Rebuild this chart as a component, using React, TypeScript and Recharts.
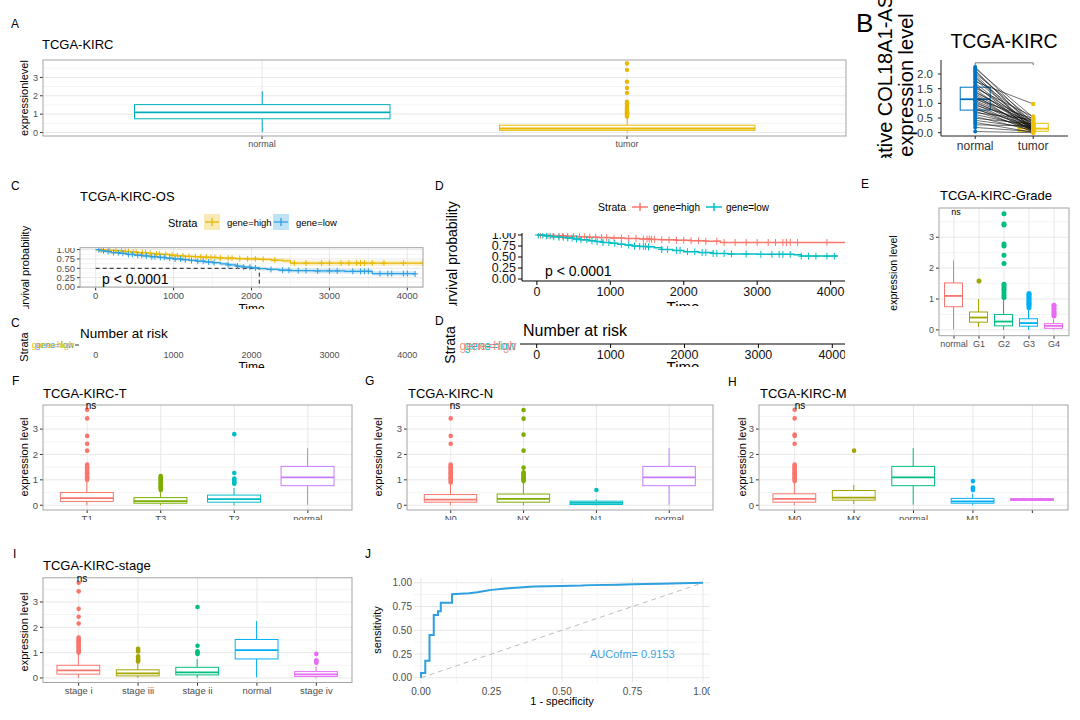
import React from "react";
import { ComposedChart, Bar, Scatter, Line, Area, XAxis, YAxis, CartesianGrid } from "recharts";

const FONT = "'Liberation Sans', Arial, Helvetica, sans-serif";

const HUE4 = ["#F8766D", "#7CAE00", "#00BFC4", "#C77CFF"];
const HUE5 = ["#F8766D", "#A3A500", "#00BF7D", "#00B0F6", "#E76BF3"];

// A: normal vs tumor
const aCats = ["normal", "tumor"];
const aLo = [0.02, 0.0];
const aQ1 = [0.75, 0.12];
const aMed = [1.1, 0.22];
const aQ3 = [1.52, 0.4];
const aHi = [2.25, 0.8];
const aOut = [[], [3.76, 3.41, 2.77, 2.43, 2.16, 1.68, 1.6, 1.55, 1.5, 1.45, 1.4, 1.35, 1.3, 1.25, 1.2, 1.15, 1.1, 1.05, 1.0, 0.95, 0.9, 0.87]];

// B: paired samples
const bCats = ["normal", "tumor"];
const bLo = [0.04, 0.0];
const bQ1 = [0.77, 0.05];
const bMed = [1.14, 0.14];
const bQ3 = [1.55, 0.32];
const bHi = [2.24, 0.56];
const bNormal = [2.24, 2.19, 2.13, 2.08, 2.02, 1.97, 1.91, 1.86, 1.8, 1.74, 1.69, 1.62, 1.57, 1.52, 1.48, 1.41, 1.37, 1.33, 1.28, 1.22, 1.18, 1.14, 1.1, 1.06, 1.01, 0.97, 0.93, 0.88, 0.84, 0.79, 0.73, 0.68, 0.62, 0.55, 0.49, 0.42, 0.35, 0.27, 0.18, 0.04];
const bTumor = [0.31, 0.52, 0.18, 0.25, 0.44, 0.12, 0.08, 0.36, 0.21, 0.98, 0.15, 0.05, 0.28, 0.55, 0.1, 0.22, 0.4, 0.17, 0.03, 0.32, 0.14, 0.48, 0.2, 0.09, 0.26, 0.06, 0.38, 0.13, 0.02, 0.24, 0.11, 0.45, 0.19, 0.07, 0.3, 0.16, 0.01, 0.23, 0.04, 0.0];
const bBracket = 2.38;

// C: OS survival (gene high / low)
const cHighT = [0, 60, 150, 250, 350, 450, 550, 650, 750, 850, 950, 1050, 1150, 1250, 1350, 1450, 1550, 1650, 1800, 1950, 2100, 2250, 2400, 2500, 4200];
const cHigh = [1, 0.99, 0.98, 0.97, 0.95, 0.93, 0.92, 0.9, 0.88, 0.87, 0.85, 0.83, 0.82, 0.81, 0.8, 0.79, 0.78, 0.77, 0.76, 0.75, 0.74, 0.72, 0.7, 0.64, 0.64];
const cHighUp = [1, 1, 1, 0.99, 0.97, 0.96, 0.95, 0.93, 0.92, 0.91, 0.89, 0.87, 0.86, 0.85, 0.84, 0.83, 0.82, 0.81, 0.8, 0.8, 0.79, 0.77, 0.76, 0.71, 0.71];
const cHighLow = [1, 0.98, 0.96, 0.94, 0.92, 0.9, 0.89, 0.86, 0.84, 0.83, 0.81, 0.79, 0.78, 0.77, 0.75, 0.74, 0.73, 0.72, 0.71, 0.7, 0.69, 0.66, 0.64, 0.57, 0.57];
const cLowT = [0, 50, 120, 200, 300, 400, 500, 600, 700, 800, 900, 1000, 1100, 1200, 1300, 1400, 1500, 1600, 1700, 1800, 1900, 2000, 2100, 2200, 2350, 2500, 2800, 3200, 3550, 4100];
const cLow = [1, 0.97, 0.95, 0.92, 0.9, 0.87, 0.85, 0.83, 0.81, 0.79, 0.77, 0.75, 0.73, 0.71, 0.69, 0.67, 0.65, 0.62, 0.59, 0.56, 0.53, 0.51, 0.49, 0.47, 0.45, 0.44, 0.43, 0.42, 0.36, 0.35];
const cLowUp = [1, 0.99, 0.98, 0.95, 0.93, 0.91, 0.89, 0.87, 0.85, 0.83, 0.81, 0.79, 0.77, 0.75, 0.73, 0.71, 0.69, 0.67, 0.64, 0.61, 0.58, 0.56, 0.54, 0.52, 0.5, 0.49, 0.49, 0.48, 0.42, 0.41];
const cLowLow = [1, 0.95, 0.92, 0.89, 0.87, 0.83, 0.81, 0.79, 0.77, 0.75, 0.73, 0.71, 0.69, 0.67, 0.65, 0.63, 0.61, 0.57, 0.54, 0.51, 0.48, 0.46, 0.44, 0.42, 0.4, 0.39, 0.37, 0.36, 0.3, 0.29];
const cHighCens = [70, 180, 260, 330, 380, 420, 480, 520, 600, 640, 700, 780, 820, 900, 980, 1050, 1120, 1200, 1280, 1350, 1420, 1480, 1530, 1600, 1700, 1750, 1850, 1950, 2050, 2150, 2300, 2550, 2700, 2900, 3000, 3150, 3250, 3350, 3400, 3450, 3550, 3700, 3950, 4200];
const cLowCens = [40, 100, 160, 230, 290, 350, 420, 470, 540, 590, 650, 720, 760, 830, 880, 950, 1020, 1090, 1150, 1230, 1310, 1380, 1450, 1520, 1700, 1820, 1900, 1980, 2050, 2250, 2400, 2480, 2600, 2700, 2850, 3000, 3100, 3300, 3400, 3450, 3500, 3650, 3750, 3800, 3950, 4000, 4100];
const cMedianTime = 2100;

// D: second survival
const dHighT = [0, 100, 250, 400, 550, 700, 850, 1000, 1200, 1400, 1550, 1700, 1900, 2100, 2300, 2500, 4200];
const dHigh = [1, 0.99, 0.98, 0.97, 0.96, 0.95, 0.94, 0.93, 0.92, 0.91, 0.9, 0.89, 0.88, 0.87, 0.86, 0.83, 0.83];
const dLowT = [0, 100, 200, 300, 400, 500, 600, 700, 800, 900, 1000, 1100, 1200, 1300, 1400, 1500, 1600, 1700, 1850, 2000, 2200, 2400, 2600, 3000, 3500, 3600, 4100];
const dLow = [1, 0.98, 0.96, 0.95, 0.93, 0.91, 0.89, 0.87, 0.85, 0.83, 0.81, 0.79, 0.77, 0.75, 0.74, 0.73, 0.71, 0.67, 0.65, 0.62, 0.6, 0.58, 0.57, 0.56, 0.55, 0.52, 0.52];
const dHighCens = [50, 150, 220, 300, 350, 420, 500, 580, 650, 720, 800, 880, 950, 1050, 1150, 1250, 1350, 1450, 1500, 1530, 1560, 1600, 1700, 1800, 1900, 2000, 2100, 2200, 2300, 2450, 2550, 2700, 2850, 3000, 3150, 3250, 3350, 3400, 3450, 3550, 3950];
const dLowCens = [20, 80, 130, 180, 230, 300, 360, 420, 480, 540, 600, 680, 750, 820, 900, 980, 1060, 1150, 1250, 1330, 1400, 1450, 1480, 1520, 1700, 1780, 1900, 1950, 2050, 2150, 2250, 2300, 2400, 2450, 2550, 2650, 2850, 3050, 3200, 3300, 3350, 3450, 3600, 3700, 3800, 3950, 4050];
const survTicks = [0, 1000, 2000, 3000, 4000];

// E: grade
const eCats = ["normal", "G1", "G2", "G3", "G4"];
const eLo = [0.02, 0.1, 0, 0, 0];
const eQ1 = [0.75, 0.25, 0.13, 0.12, 0.05];
const eMed = [1.1, 0.4, 0.27, 0.22, 0.13];
const eQ3 = [1.52, 0.58, 0.5, 0.36, 0.2];
const eHi = [2.25, 1.0, 1.0, 0.7, 0.35];
const eOut = [[], [1.58], [1.05, 1.12, 1.2, 1.28, 1.35, 1.42, 1.48, 2.15, 2.42, 2.72, 2.78, 3.4, 3.43, 3.76], [0.72, 0.78, 0.82, 0.86, 0.9, 0.95, 1.0, 1.05, 1.1, 1.15, 1.18], [0.45, 0.5, 0.55, 0.6, 0.68, 0.72, 0.78, 0.8]];

// F: T stage
const fCats = ["T1", "T3", "T2", "normal"];
const fLo = [0, 0, 0, 0.02];
const fQ1 = [0.15, 0.08, 0.12, 0.77];
const fMed = [0.28, 0.16, 0.24, 1.1];
const fQ3 = [0.5, 0.3, 0.4, 1.53];
const fHi = [0.92, 0.58, 0.68, 2.25];
const fOut = [[1.0, 1.05, 1.1, 1.15, 1.2, 1.25, 1.3, 1.35, 1.4, 1.45, 1.5, 1.55, 1.6, 2.15, 2.42, 2.73, 3.42, 3.76], [0.6, 0.65, 0.7, 0.75, 0.8, 0.85, 0.9, 0.95, 1.0, 1.05, 1.1, 1.15], [0.85, 0.9, 0.95, 1.0, 1.05, 1.27, 2.8], []];

// G: N stage
const gCats = ["N0", "NX", "N1", "normal"];
const gLo = [0, 0, 0, 0.02];
const gQ1 = [0.12, 0.12, 0.03, 0.77];
const gMed = [0.22, 0.25, 0.09, 1.1];
const gQ3 = [0.42, 0.44, 0.16, 1.53];
const gHi = [0.88, 0.9, 0.24, 2.25];
const gOut = [[0.9, 0.95, 1.0, 1.05, 1.1, 1.15, 1.2, 1.25, 1.3, 1.35, 1.4, 1.45, 1.5, 1.55, 1.6, 2.42, 2.73, 3.42], [0.95, 1.0, 1.05, 1.1, 1.15, 1.2, 1.25, 1.3, 1.48, 2.15, 2.78, 3.41, 3.75], [0.6], []];

// H: M stage
const hCats = ["M0", "MX", "normal", "M1", ""];
const hLo = [0, 0.05, 0.02, 0, 0.18];
const hQ1 = [0.12, 0.2, 0.77, 0.08, 0.19];
const hMed = [0.25, 0.3, 1.1, 0.15, 0.22];
const hQ3 = [0.45, 0.58, 1.53, 0.27, 0.26];
const hHi = [0.9, 0.8, 2.25, 0.45, 0.27];
const hOut = [[0.95, 1.0, 1.05, 1.1, 1.15, 1.2, 1.25, 1.3, 1.35, 1.4, 1.45, 1.5, 1.55, 1.6, 2.42, 2.73, 2.78, 3.42, 3.76], [2.15], [], [0.6, 0.65, 0.7, 0.95], []];

// I: pathologic stage
const iCats = ["stage i", "stage iii", "stage ii", "normal", "stage iv"];
const iLo = [0, 0, 0, 0.02, 0];
const iQ1 = [0.15, 0.08, 0.12, 0.75, 0.06];
const iMed = [0.3, 0.18, 0.22, 1.1, 0.14];
const iQ3 = [0.5, 0.32, 0.42, 1.52, 0.25];
const iHi = [0.95, 0.6, 0.75, 2.25, 0.45];
const iOut = [[1.0, 1.05, 1.1, 1.15, 1.2, 1.25, 1.3, 1.35, 1.4, 1.45, 1.5, 1.55, 1.6, 2.15, 2.42, 2.73, 3.42, 3.76], [0.65, 0.7, 0.75, 0.8, 0.85, 1.05, 1.1, 1.15], [0.95, 1.0, 1.05, 1.27, 2.8], [], [0.6, 0.65, 0.7, 0.95]];

// J: ROC
const rocFpr = [0, 0, 0.015, 0.015, 0.03, 0.03, 0.045, 0.045, 0.06, 0.06, 0.07, 0.07, 0.11, 0.11, 0.17, 0.2, 0.22, 0.25, 0.3, 0.35, 0.4, 0.5, 0.57, 0.6, 0.7, 0.75, 0.85, 1];
const rocTpr = [0, 0.05, 0.05, 0.18, 0.18, 0.45, 0.45, 0.66, 0.66, 0.7, 0.7, 0.79, 0.79, 0.88, 0.89, 0.9, 0.91, 0.925, 0.94, 0.95, 0.96, 0.965, 0.97, 0.975, 0.98, 0.985, 0.99, 1];
const rocAuc = 0.9153;

const Y_TICKS = [0, 1, 2, 3];
const Y_MINOR = [0.5, 1.5, 2.5, 3.5];
const BOX_DOMAIN: [number, number] = [-0.188, 3.948];

const stepAt = (ts: number[], ss: number[], t: number) => {
  let v = ss[0];
  ts.forEach((tt, i) => {
    if (tt <= t) v = ss[i];
  });
  return v;
};

const BoxShape = (props: any) => {
  const { x, y, width, height } = props;
  const p = props.payload ?? props;
  if (p == null || p.lo == null) return null;
  const top = Math.min(y, y + height);
  const bot = Math.max(y, y + height);
  const span = p.hi - p.lo;
  const py = (v: number) => (span > 0 ? bot - ((v - p.lo) / span) * (bot - top) : bot);
  const cx = x + width / 2;
  return (
    <g>
      <line x1={cx} x2={cx} y1={py(p.hi)} y2={py(p.q3)} stroke={p.color} strokeWidth={1} />
      <line x1={cx} x2={cx} y1={py(p.q1)} y2={py(p.lo)} stroke={p.color} strokeWidth={1} />
      <rect x={x} y={py(p.q3)} width={width} height={Math.max(1, py(p.q1) - py(p.q3))} fill="#fff" stroke={p.color} strokeWidth={1} />
      <line x1={x} x2={x + width} y1={py(p.med)} y2={py(p.med)} stroke={p.color} strokeWidth={1.8} />
    </g>
  );
};

const dotShape = (r: number) => (props: any) => (
  <circle cx={props.cx} cy={props.cy} r={r} fill={props.payload?.color ?? props.color} />
);

const plusShape = (color: string, s: number) => (props: any) => (
  <g stroke={color} strokeWidth={1}>
    <line x1={props.cx - s} x2={props.cx + s} y1={props.cy} y2={props.cy} />
    <line x1={props.cx} x2={props.cx} y1={props.cy - s} y2={props.cy + s} />
  </g>
);

const tickStyle = (size: number, fill = "#4D4D4D") => ({ fontSize: size, fill, fontFamily: FONT });

function BoxPanel(props: any) {
  const { cats, lo, q1, med, q3, hi, out, colors, x0, y0, x1, y1 } = props;
  const frac = props.frac ?? 0.72;
  const font = props.font ?? 9.5;
  const r = props.r ?? 2.3;
  const xh = props.xh ?? 24;
  const yw = 34;
  const n = cats.length;
  const unit = (x1 - x0) / (n + 0.2);
  const W = x1 - x0 + yw;
  const H = y1 - y0 + xh;
  const rows = cats.map((c: string, i: number) => ({
    x: i + 1, name: c, range: [lo[i], hi[i]], lo: lo[i], q1: q1[i], med: med[i], q3: q3[i], hi: hi[i], color: colors[i],
  }));
  const pts = out.flatMap((vals: number[], i: number) => vals.map((v) => ({ x: i + 1, y: v, color: colors[i] })));
  const pos = rows.map((d: any) => d.x);
  return (
    <div style={{ position: "absolute", left: x0 - yw, top: y0, width: W, height: H }}>
      <ComposedChart width={W} height={H} data={rows} margin={{ top: 0, right: 0, bottom: 0, left: 0 }}>
        <CartesianGrid horizontalValues={Y_MINOR} vertical={false} stroke="#F4F4F4" />
        <CartesianGrid horizontalValues={Y_TICKS} verticalValues={pos} stroke="#E8E8E8" />
        <XAxis type="number" dataKey="x" domain={[0.4, n + 0.6]} ticks={pos} interval={0}
          tickFormatter={(v: number) => cats[v - 1]} height={xh} tickSize={3} axisLine={false}
          tickLine={{ stroke: "#333" }} tick={tickStyle(font)} />
        <YAxis type="number" domain={BOX_DOMAIN} ticks={Y_TICKS} interval={0} width={yw} tickSize={3}
          axisLine={false} tickLine={{ stroke: "#333" }} tick={tickStyle(font)} />
        <Bar dataKey="range" barSize={unit * frac} shape={BoxShape} isAnimationActive={false} />
        <Scatter data={pts} dataKey="y" shape={dotShape(r)} isAnimationActive={false} />
      </ComposedChart>
    </div>
  );
}

function PairedPanel() {
  const x0 = 941, x1 = 1068, y0 = 60, y1 = 136, yw = 40, xh = 24;
  const W = x1 - x0 + yw, H = y1 - y0 + xh;
  const colors = ["#0073C2", "#EFC000"];
  const rows = bCats.map((c, i) => ({
    x: i + 1, range: [bLo[i], bHi[i]], lo: bLo[i], q1: bQ1[i], med: bMed[i], q3: bQ3[i], hi: bHi[i], color: colors[i],
  }));
  const normalPts = bNormal.map((v) => ({ x: 1, y: v, color: colors[0] }));
  const tumorPts = bTumor.map((v) => ({ x: 2, y: v, color: colors[1] }));
  const bracket = [{ x: 1, y: bBracket - 0.08 }, { x: 1, y: bBracket }, { x: 2, y: bBracket }, { x: 2, y: bBracket - 0.08 }];
  return (
    <div style={{ position: "absolute", left: x0 - yw, top: y0, width: W, height: H }}>
      <ComposedChart width={W} height={H} data={rows} margin={{ top: 0, right: 0, bottom: 0, left: 0 }}>
        <XAxis type="number" dataKey="x" domain={[0.41, 2.6]} ticks={[1, 2]} interval={0}
          tickFormatter={(v: number) => bCats[v - 1]} height={xh} tickSize={3}
          axisLine={{ stroke: "#222" }} tickLine={{ stroke: "#222" }} tick={tickStyle(12, "#333")} />
        <YAxis type="number" domain={[-0.112, 2.477]} ticks={[0, 0.5, 1, 1.5, 2]} interval={0} width={yw}
          tickFormatter={(v: number) => v.toFixed(1)} tickSize={3} tickMargin={5}
          axisLine={{ stroke: "#222" }} tickLine={{ stroke: "#222" }} tick={tickStyle(11.5, "#333")} />
        <Bar dataKey="range" barSize={30} shape={BoxShape} isAnimationActive={false} />
        {bNormal.map((v, i) => (
          <Line key={"p" + i} data={[{ x: 1, y: v }, { x: 2, y: bTumor[i] }]} dataKey="y" stroke="#111"
            strokeWidth={0.6} dot={false} isAnimationActive={false} />
        ))}
        <Line data={bracket} dataKey="y" stroke="#555" strokeWidth={0.8} dot={false} isAnimationActive={false} />
        <Scatter data={normalPts} dataKey="y" shape={dotShape(2)} isAnimationActive={false} />
        <Scatter data={tumorPts} dataKey="y" shape={dotShape(2.2)} isAnimationActive={false} />
      </ComposedChart>
    </div>
  );
}

function SurvC() {
  const x0 = 80, x1 = 423, y0 = 247.7, y1 = 287.1, yw = 34, xh = 20;
  const W = x1 - x0 + yw, H = y1 - y0 + xh;
  const hiRows = cHighT.map((t, i) => ({ t, s: cHigh[i], band: [cHighLow[i], cHighUp[i]] }));
  const loRows = cLowT.map((t, i) => ({ t, s: cLow[i], band: [cLowLow[i], cLowUp[i]] }));
  const hiCens = cHighCens.map((t) => ({ t, s: stepAt(cHighT, cHigh, t) }));
  const loCens = cLowCens.map((t) => ({ t, s: stepAt(cLowT, cLow, t) }));
  const med = [{ t: 0, s: 0.5 }, { t: cMedianTime, s: 0.5 }, { t: cMedianTime, s: 0 }];
  return (
    <div style={{ position: "absolute", left: x0 - yw, top: y0, width: W, height: H }}>
      <ComposedChart width={W} height={H} margin={{ top: 0, right: 0, bottom: 0, left: 0 }}>
        <CartesianGrid horizontalValues={[0.125, 0.375, 0.625, 0.875]} verticalValues={[500, 1500, 2500, 3500]} stroke="#F4F4F4" />
        <CartesianGrid horizontalValues={[0, 0.25, 0.5, 0.75, 1]} verticalValues={survTicks} stroke="#E8E8E8" />
        <XAxis type="number" dataKey="t" domain={[-201, 4201]} ticks={survTicks} interval={0} height={xh}
          tickSize={3} axisLine={false} tickLine={{ stroke: "#333" }} tick={tickStyle(9.5)} />
        <YAxis type="number" domain={[-0.01, 1.043]} ticks={[0, 0.25, 0.5, 0.75, 1]} interval={0} width={yw}
          tickFormatter={(v: number) => v.toFixed(2)} tickSize={3} axisLine={false}
          tickLine={{ stroke: "#333" }} tick={tickStyle(9.5)} />
        <Area data={hiRows} dataKey="band" type="stepAfter" fill="#E7B800" fillOpacity={0.22} stroke="none" isAnimationActive={false} />
        <Area data={loRows} dataKey="band" type="stepAfter" fill="#2E9FDF" fillOpacity={0.22} stroke="none" isAnimationActive={false} />
        <Line data={med} dataKey="s" stroke="#000" strokeDasharray="4 3" strokeWidth={0.9} dot={false} isAnimationActive={false} />
        <Line data={hiRows} dataKey="s" type="stepAfter" stroke="#E7B800" strokeWidth={1.3} dot={false} isAnimationActive={false} />
        <Line data={loRows} dataKey="s" type="stepAfter" stroke="#2E9FDF" strokeWidth={1.3} dot={false} isAnimationActive={false} />
        <Scatter data={hiCens} dataKey="s" shape={plusShape("#E7B800", 3)} isAnimationActive={false} />
        <Scatter data={loCens} dataKey="s" shape={plusShape("#2E9FDF", 3)} isAnimationActive={false} />
      </ComposedChart>
    </div>
  );
}

function SurvD() {
  const x0 = 521.7, x1 = 845, y0 = 233, y1 = 281, yw = 40, xh = 22;
  const W = x1 - x0 + yw, H = y1 - y0 + xh;
  const hiRows = dHighT.map((t, i) => ({ t, s: dHigh[i] }));
  const loRows = dLowT.map((t, i) => ({ t, s: dLow[i] }));
  const hiCens = dHighCens.map((t) => ({ t, s: stepAt(dHighT, dHigh, t) }));
  const loCens = dLowCens.map((t) => ({ t, s: stepAt(dLowT, dLow, t) }));
  return (
    <div style={{ position: "absolute", left: x0 - yw, top: y0, width: W, height: H }}>
      <ComposedChart width={W} height={H} margin={{ top: 0, right: 0, bottom: 0, left: 0 }}>
        <XAxis type="number" dataKey="t" domain={[-203, 4172]} ticks={survTicks} interval={0} height={xh}
          tickSize={4} axisLine={{ stroke: "#000" }} tickLine={{ stroke: "#000" }} tick={tickStyle(12.5, "#111")} />
        <YAxis type="number" domain={[-0.045, 1.045]} ticks={[0, 0.25, 0.5, 0.75, 1]} interval={0} width={yw}
          tickFormatter={(v: number) => v.toFixed(2)} tickSize={4} axisLine={{ stroke: "#000" }}
          tickLine={{ stroke: "#000" }} tick={tickStyle(12.5, "#111")} />
        <Line data={hiRows} dataKey="s" type="stepAfter" stroke="#F8766D" strokeWidth={1.5} dot={false} isAnimationActive={false} />
        <Line data={loRows} dataKey="s" type="stepAfter" stroke="#00BFC4" strokeWidth={1.5} dot={false} isAnimationActive={false} />
        <Scatter data={hiCens} dataKey="s" shape={plusShape("#F8766D", 3.5)} isAnimationActive={false} />
        <Scatter data={loCens} dataKey="s" shape={plusShape("#00BFC4", 3.5)} isAnimationActive={false} />
      </ComposedChart>
    </div>
  );
}

function RiskAxis(props: any) {
  const { x0, x1, yAxisAt, domain, font, fill, line } = props;
  const W = x1 - x0, H = 24;
  const rows = survTicks.map((t) => ({ t }));
  return (
    <div style={{ position: "absolute", left: x0, top: yAxisAt - 1, width: W, height: H }}>
      <ComposedChart width={W} height={H} data={rows} margin={{ top: 0, right: 0, bottom: 0, left: 0 }}>
        <XAxis type="number" dataKey="t" domain={domain} ticks={survTicks} interval={0} height={H - 1}
          tickSize={line ? 4 : 0} axisLine={line ? { stroke: "#000" } : false}
          tickLine={line ? { stroke: "#000" } : false} tick={tickStyle(font, fill)} />
        <YAxis hide domain={[0, 1]} />
        <Line dataKey="none" stroke="none" dot={false} isAnimationActive={false} />
      </ComposedChart>
    </div>
  );
}

function RocPanel() {
  const x0 = 414, x1 = 710, y0 = 578, y1 = 682.5, yw = 40, xh = 20;
  const W = x1 - x0 + yw, H = y1 - y0 + xh;
  const rows = rocFpr.map((x, i) => ({ x, y: rocTpr[i] }));
  const diag = [{ x: 0, y: 0 }, { x: 1, y: 1 }];
  const ticks = [0, 0.25, 0.5, 0.75, 1];
  const minor = [0.125, 0.375, 0.625, 0.875];
  return (
    <div style={{ position: "absolute", left: x0 - yw, top: y0, width: W, height: H }}>
      <ComposedChart width={W} height={H} margin={{ top: 0, right: 0, bottom: 0, left: 0 }}>
        <CartesianGrid horizontalValues={minor} verticalValues={minor} stroke="#F4F4F4" />
        <CartesianGrid horizontalValues={ticks} verticalValues={ticks} stroke="#E6E6E6" />
        <XAxis type="number" dataKey="x" domain={[-0.025, 1.025]} ticks={ticks} interval={0} height={xh}
          tickFormatter={(v: number) => v.toFixed(2)} tickSize={0} tickMargin={5} axisLine={false}
          tickLine={false} tick={tickStyle(10)} />
        <YAxis type="number" domain={[-0.05, 1.05]} ticks={ticks} interval={0} width={yw}
          tickFormatter={(v: number) => v.toFixed(2)} tickSize={0} tickMargin={2} axisLine={false}
          tickLine={false} tick={tickStyle(10)} />
        <Line data={diag} dataKey="y" stroke="#BDBDBD" strokeDasharray="5 4" strokeWidth={1} dot={false} isAnimationActive={false} />
        <Line data={rows} dataKey="y" stroke="#2E9FDF" strokeWidth={2} dot={false} isAnimationActive={false} />
      </ComposedChart>
    </div>
  );
}

const VText = ({ x, y, size, children, fill = "#000" }: any) => (
  <text transform={`translate(${x},${y}) rotate(-90)`} textAnchor="middle" dominantBaseline="central" fontSize={size} fill={fill}>
    {children}
  </text>
);

export default function App() {
  const bw = (x0: number, y0: number, x1: number, y1: number, k: string) => (
    <rect key={k} x={x0} y={y0} width={x1 - x0} height={y1 - y0} fill="none" stroke="#A3A3A3" strokeWidth={1} />
  );
  return (
    <div style={{ position: "absolute", left: 0, top: 0, width: 1080, height: 720, background: "#fff", overflow: "hidden", fontFamily: FONT }}>
      <BoxPanel cats={aCats} lo={aLo} q1={aQ1} med={aMed} q3={aQ3} hi={aHi} out={aOut} colors={["#00AFBB", "#E7B800"]}
        x0={43} y0={60} x1={846} y1={136} frac={0.7} font={9} r={2.2} />
      <PairedPanel />
      <SurvC />
      <SurvD />
      <RiskAxis x0={80} x1={423} yAxisAt={349.5} domain={[-201, 4201]} font={9} fill="#4D4D4D" line={false} />
      <RiskAxis x0={520} x1={845} yAxisAt={344} domain={[-226, 4172]} font={12.5} fill="#111" line={true} />
      <BoxPanel cats={eCats} lo={eLo} q1={eQ1} med={eMed} q3={eQ3} hi={eHi} out={eOut} colors={HUE5}
        x0={939} y0={208} x1={1069} y1={335.7} font={9} r={2.5} />
      <BoxPanel cats={fCats} lo={fLo} q1={fQ1} med={fMed} q3={fQ3} hi={fHi} out={fOut} colors={HUE4}
        x0={43} y0={405} x1={352} y1={510} xh={10} />
      <BoxPanel cats={gCats} lo={gLo} q1={gQ1} med={gMed} q3={gQ3} hi={gHi} out={gOut} colors={HUE4}
        x0={407} y0={405} x1={713} y1={510} xh={10} />
      <BoxPanel cats={hCats} lo={hLo} q1={hQ1} med={hMed} q3={hQ3} hi={hHi} out={hOut} colors={HUE5}
        x0={759} y0={405} x1={1068} y1={510} xh={10} />
      <BoxPanel cats={iCats} lo={iLo} q1={iQ1} med={iMed} q3={iQ3} hi={iHi} out={iOut} colors={HUE5}
        x0={43} y0={577.8} x1={352} y1={682.5} />
      <RocPanel />

      <svg width={1080} height={720} style={{ position: "absolute", left: 0, top: 0, pointerEvents: "none", fontFamily: FONT }}>
        <defs>
          <clipPath id="clipB"><rect x={850} y={0} width={230} height={158} /></clipPath>
          <clipPath id="clipC"><rect x={0} y={160} width={430} height={149} /></clipPath>
          <clipPath id="clipD"><rect x={430} y={160} width={430} height={146} /></clipPath>
          <clipPath id="clipCr"><rect x={0} y={315} width={430} height={53} /></clipPath>
          <clipPath id="clipDr"><rect x={430} y={315} width={430} height={52} /></clipPath>
        </defs>
        {bw(43, 60, 846, 136, "a")}
        {bw(80, 247.7, 423, 287.1, "c")}
        {bw(939, 208, 1069, 335.7, "e")}
        {bw(43, 405, 352, 510, "f")}
        {bw(407, 405, 713, 510, "g")}
        {bw(759, 405, 1068, 510, "h")}
        {bw(43, 577.8, 352, 682.5, "i")}

        {/* panel letters */}
        <g fontSize={12} fill="#000">
          <text x={11} y={28}>A</text>
          <text x={11} y={190}>C</text>
          <text x={11} y={327}>C</text>
          <text x={435} y={190}>D</text>
          <text x={435} y={325}>D</text>
          <text x={861} y={188}>E</text>
          <text x={12} y={385}>F</text>
          <text x={365} y={385}>G</text>
          <text x={728} y={386}>H</text>
          <text x={13} y={558}>I</text>
          <text x={365} y={558}>J</text>
        </g>

        {/* titles */}
        <g fontSize={13} fill="#000">
          <text x={42} y={49}>TCGA-KIRC</text>
          <text x={80} y={201}>TCGA-KIRC-OS</text>
          <text x={940} y={200}>TCGA-KIRC-Grade</text>
          <text x={43} y={398}>TCGA-KIRC-T</text>
          <text x={408} y={398}>TCGA-KIRC-N</text>
          <text x={760} y={398}>TCGA-KIRC-M</text>
          <text x={43} y={570}>TCGA-KIRC-stage</text>
        </g>

        {/* ns labels */}
        <g fontSize={10} fill="#000" textAnchor="middle">
          <text x={91} y={409}>ns</text>
          <text x={455} y={409}>ns</text>
          <text x={800} y={409}>ns</text>
          <text x={82} y={582}>ns</text>
          <text x={956} y={215} fontSize={9}>ns</text>
        </g>

        {/* y labels */}
        <VText x={24} y={98} size={11}>expressionlevel</VText>
        <VText x={893} y={273} size={10.5}>expression level</VText>
        <VText x={24} y={457} size={11}>expression level</VText>
        <VText x={378} y={457} size={11}>expression level</VText>
        <VText x={742} y={457} size={11}>expression level</VText>
        <VText x={24} y={632} size={11}>expression level</VText>
        <VText x={377} y={630} size={11}>sensitivity</VText>
        <text x={562} y={705} fontSize={11} textAnchor="middle" fill="#000">1 - specificity</text>
        <text x={590} y={658} fontSize={11} fill="#3FA3DD">{`AUCofm= ${rocAuc}`}</text>

        {/* B */}
        <g clipPath="url(#clipB)">
          <VText x={884.5} y={85} size={20}>relative COL18A1-AS1</VText>
          <VText x={906} y={85} size={20}>expression level</VText>
          <text x={856} y={32} fontSize={26} fill="#000">B</text>
        </g>
        <text x={1004} y={48} fontSize={19.5} textAnchor="middle" fill="#000">TCGA-KIRC</text>

        {/* C legend & texts */}
        <text x={168} y={227} fontSize={11} fill="#000">Strata</text>
        <rect x={204} y={214} width={16} height={16} fill="#E7B800" fillOpacity={0.3} />
        <line x1={205} x2={219} y1={222} y2={222} stroke="#E7B800" strokeWidth={1.3} />
        <line x1={212} x2={212} y1={218} y2={226} stroke="#E7B800" strokeWidth={1.3} />
        <text x={227} y={226} fontSize={9.5} fill="#000">gene=high</text>
        <rect x={273} y={214} width={16} height={16} fill="#2E9FDF" fillOpacity={0.3} />
        <line x1={274} x2={288} y1={222} y2={222} stroke="#2E9FDF" strokeWidth={1.3} />
        <line x1={281} x2={281} y1={218} y2={226} stroke="#2E9FDF" strokeWidth={1.3} />
        <text x={296} y={226} fontSize={9.5} fill="#000">gene=low</text>
        <text x={102} y={284} fontSize={14} fill="#000">p &lt; 0.0001</text>
        <g clipPath="url(#clipC)">
          <VText x={25} y={272} size={11}>Survival probability</VText>
          <text x={251.5} y={313} fontSize={12} textAnchor="middle" fill="#000">Time</text>
        </g>
        <text x={80} y={338} fontSize={13.5} fill="#000">Number at risk</text>
        <VText x={24} y={347} size={11}>Strata</VText>
        <text x={74} y={348} fontSize={9} textAnchor="end" fill="#2E9FDF">gene=low</text>
        <text x={74} y={348} fontSize={9} textAnchor="end" fill="#E7B800">gene=high</text>
        <line x1={75} x2={79} y1={345} y2={345} stroke="#333" strokeWidth={1} />
        <g clipPath="url(#clipCr)">
          <text x={251.5} y={371} fontSize={12} textAnchor="middle" fill="#000">Time</text>
        </g>

        {/* D legend & texts */}
        <text x={598} y={211} fontSize={10.5} fill="#000">Strata</text>
        <line x1={632} x2={648} y1={207} y2={207} stroke="#F8766D" strokeWidth={1.5} />
        <line x1={640} x2={640} y1={203} y2={211} stroke="#F8766D" strokeWidth={1.5} />
        <text x={653} y={211} fontSize={10} fill="#000">gene=high</text>
        <line x1={706} x2={722} y1={207} y2={207} stroke="#00BFC4" strokeWidth={1.5} />
        <line x1={714} x2={714} y1={203} y2={211} stroke="#00BFC4" strokeWidth={1.5} />
        <text x={726} y={211} fontSize={10} fill="#000">gene=low</text>
        <text x={545} y={276} fontSize={14} fill="#000">p &lt; 0.0001</text>
        <g clipPath="url(#clipD)">
          <VText x={452} y={260} size={14}>Survival probability</VText>
          <text x={683} y={312} fontSize={15} textAnchor="middle" fill="#000">Time</text>
        </g>
        <text x={523} y={336} fontSize={16} fill="#000">Number at risk</text>
        <VText x={450} y={345} size={14}>Strata</VText>
        <text x={516} y={350} fontSize={12} textAnchor="end" fill="#00BFC4">gene=low</text>
        <text x={516} y={350} fontSize={12} textAnchor="end" fill="#F8766D" fillOpacity={0.85}>gene=high</text>
        <g clipPath="url(#clipDr)">
          <text x={683} y={372} fontSize={15} textAnchor="middle" fill="#000">Time</text>
        </g>
      </svg>
    </div>
  );
}
